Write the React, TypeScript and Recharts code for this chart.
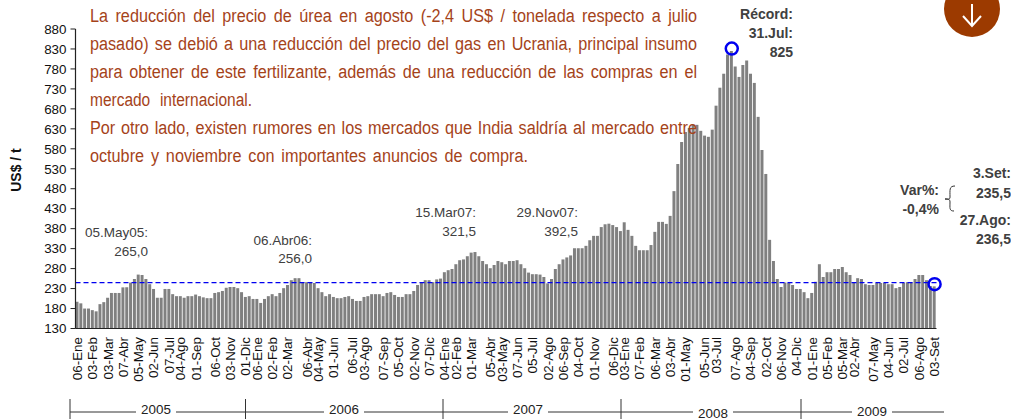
import React from 'react';
import { ComposedChart, Bar, XAxis, YAxis, ReferenceLine, ReferenceDot } from 'recharts';

const prices2005: number[] = [197,193,180,180,176,173,191,196,207,219,219,219,233,233,245,254,265,264,254,241,229,207,207,229,229,216,211,211,207,211,211,215,211,208,206,206,219,221,224,232,234,234,231,221,209];
const prices2006: number[] = [211,204,204,194,204,211,216,211,219,231,239,251,256,256,246,246,246,244,231,221,211,216,209,206,206,209,211,204,199,199,209,211,216,216,216,211,219,221,214,209,209,216,216,224,239,246,251,251,246,253,255,271,276,279,291,301,303,311,320,321.5];
const prices2007: number[] = [311,299,291,281,289,299,296,291,299,299,301,291,281,270,266,266,265,259,243,254,279,291,303,308,313,331,331,331,337,351,362,362,384,391,392.5,389,384,374,396];
const prices2008: number[] = [377,362,337,326,326,326,339,372,397,397,392,412,474,542,597,622,632,640,640,625,613,610,628,688,733,768,816,825,786,760,790,801,768,745,660,577,517];
const prices2009: number[] = [352,299,254,234,245,244,239,229,229,221,206,219,247,291,259,271,271,279,279,284,271,264,244,256,254,241,239,239,244,244,244,241,241,231,234,244,246,246,254,264,264,251,236.5,235.5];

const prices: number[] = [...prices2005, ...prices2006, ...prices2007, ...prices2008, ...prices2009];
const chartData = prices.map((price, i) => ({ i, price }));

const tickPositions: number[] = [0,4,8,12,16,20,24,27,31,36,40,44,47,51,55,60,63,67,72,75,80,84,88,92,96,99,103,108,111,115,119,123,127,131,135,140,143,147,151,155,159,164,167,172,176,180,184,188,192,196,200,203,208,212,216,220,224];
const tickLabels: string[] = ['06-Ene','03-Feb','03-Mar','07-Abr','05-May','02-Jun','07-Jul','04-Ago','01-Sep','06-Oct','03-Nov','01-Dic','06-Ene','02-Feb','02-Mar','06-Abr','04-May','01-Jun','06-Jul','03-Ago','07-Sep','05-Oct','02-Nov','07-Dic','04-Ene','02-Feb','01-Mar','05-Abr','03-May','07-Jun','05-Jul','02-Ago','06-Sep','04-Oct','01-Nov','06-Dic','03-Ene','07-Feb','06-Mar','03-Abr','01-May','05-Jun','03-Jul','07-Ago','04-Sep','02-Oct','06-Nov','04-Dic','01-Ene','05-Feb','05-Mar','02-Abr','07-May','04-Jun','02-Jul','06-Ago','03-Set'];
const yTicks: number[] = [130,180,230,280,330,380,430,480,530,580,630,680,730,780,830,880];
const yearLabels = [
  { year: '2005', x: 156, y: 409 },
  { year: '2006', x: 344, y: 409 },
  { year: '2007', x: 528, y: 409 },
  { year: '2008', x: 713, y: 413 },
  { year: '2009', x: 872, y: 411 },
];
const yearDividers: number[] = [70, 245.5, 443, 621, 801];
const paragraph = [
  { text: 'La reducción del precio de úrea en agosto (-2,4 US$ / tonelada respecto a julio', width: 607, squeeze: 0.9 },
  { text: 'pasado) se debió a una reducción del precio del gas en Ucrania, principal insumo', width: 607, squeeze: 0.9 },
  { text: 'para obtener de este fertilizante, además de una reducción de las compras en el', width: 607, squeeze: 0.9 },
  { text: 'mercado internacional.', width: 162, squeeze: 0.86 },
  { text: 'Por otro lado, existen rumores en los mercados que India saldría al mercado entre', width: 607, squeeze: 0.9 },
  { text: 'octubre y noviembre con importantes anuncios de compra.', width: 438, squeeze: 0.9 },
];
const notes = [
  { text: '05.May05:', right: 148, y: 233 },
  { text: '265,0', right: 148, y: 252 },
  { text: '06.Abr06:', right: 312, y: 241 },
  { text: '256,0', right: 312, y: 259 },
  { text: '15.Mar07:', right: 476, y: 213 },
  { text: '321,5', right: 476, y: 232 },
  { text: '29.Nov07:', right: 578, y: 213 },
  { text: '392,5', right: 578, y: 232 },
  { text: 'Récord:', right: 793, y: 14, bold: true },
  { text: '31.Jul:', right: 793, y: 33, bold: true },
  { text: '825', right: 793, y: 52, bold: true },
  { text: '3.Set:', right: 1011, y: 173, bold: true },
  { text: '235,5', right: 1011, y: 193, bold: true },
  { text: '27.Ago:', right: 1011, y: 220, bold: true },
  { text: '236,5', right: 1011, y: 239, bold: true },
  { text: 'Var%:', right: 939, y: 190, bold: true },
  { text: '-0,4%', right: 939, y: 209, bold: true },
];

const FONT = '"Liberation Sans", Arial, sans-serif';
const BROWN = '#A5431A';

const XTick = (props: any) => {
  const { x, payload } = props;
  const label = tickLabels[tickPositions.indexOf(payload.value)];
  return (
    <text x={x} y={337} transform={`rotate(-90 ${x} 337)`} textAnchor="end" dominantBaseline="central" fontFamily={FONT} fontSize={13.4} fill="#111">
      {label}
    </text>
  );
};

export default function App() {
  return (
    <div style={{ position: 'absolute', left: 0, top: 0, width: 1011, height: 419, overflow: 'hidden', background: '#fff', fontFamily: FONT }}>
      <ComposedChart width={1011} height={419} data={chartData} margin={{ top: 29, right: 74.5, bottom: 0, left: 0 }} barCategoryGap={0.8}>
        <XAxis dataKey="i" type="category" ticks={tickPositions} interval={0} height={90.5} tick={<XTick />} tickLine={false} axisLine={{ stroke: '#222', strokeWidth: 1.2 }} />
        <YAxis type="number" domain={[130, 880]} ticks={yTicks} interval={0} width={75.5} tickSize={5} tickMargin={4} tick={{ fontFamily: FONT, fontSize: 13.4, fill: '#111' }} axisLine={{ stroke: '#222', strokeWidth: 1.2 }} tickLine={{ stroke: '#222' }} />
        <Bar dataKey="price" fill="#808080" isAnimationActive={false} barSize={3} />
        <ReferenceLine y={245} stroke="#0000F0" strokeWidth={1.3} strokeDasharray="5 3" />
        <ReferenceDot x={171} y={831} r={6} fill="none" stroke="#0000F0" strokeWidth={2.5} />
        <ReferenceDot x={224} y={241} r={6} fill="none" stroke="#0000F0" strokeWidth={2.5} />
      </ComposedChart>

      <svg width={1011} height={419} style={{ position: 'absolute', left: 0, top: 0, pointerEvents: 'none' }}>
        <circle cx={972} cy={9} r={28} fill="#9C3A00" />
        <path d="M972 4 V26 M963 16 L972 26 L981 16" fill="none" stroke="#fff" strokeWidth={2} />
        <path d="M955 186 C949 186 950 190 950 197 C950 200 948 199 945 199 C948 199 950 199 950 202 C950 208 949 211 954 211" fill="none" stroke="#333" strokeWidth={1} />
        <line x1={70} x2={944} y1={412} y2={412} stroke="#333" strokeWidth={1} />
        {yearDividers.map((x) => (
          <line key={x} x1={x} x2={x} y1={399} y2={419} stroke="#333" strokeWidth={1} />
        ))}
        {yearLabels.map((d) => (
          <g key={d.year}>
            <rect x={d.x - 20} y={402} width={40} height={17} fill="#fff" />
            <text x={d.x} y={d.y} textAnchor="middle" dominantBaseline="central" fontFamily={FONT} fontSize={13.4} fill="#222">{d.year}</text>
          </g>
        ))}
        <text x={16} y={170} transform="rotate(-90 16 170)" textAnchor="middle" dominantBaseline="central" fontFamily={FONT} fontSize={14} fontWeight="bold" fill="#111">US$ / t</text>
      </svg>

      {paragraph.map((line, k) => (
        <div key={k} style={{ position: 'absolute', left: 90, top: 16 + k * 28 - 12, width: line.width / line.squeeze, height: 24, lineHeight: '24px', fontSize: 18, color: BROWN, textAlign: 'justify', textAlignLast: 'justify', whiteSpace: 'normal', transform: `scaleX(${line.squeeze})`, transformOrigin: 'left center' }}>
          {line.text}
        </div>
      ))}
      {notes.map((n, k) => (
        <div key={k} style={{ position: 'absolute', right: 1011 - n.right, top: n.y - 9, lineHeight: '18px', fontSize: (n as any).bold ? 14 : 13.5, fontWeight: (n as any).bold ? 'bold' : 'normal', color: '#404040', whiteSpace: 'nowrap' }}>
          {n.text}
        </div>
      ))}
    </div>
  );
}
